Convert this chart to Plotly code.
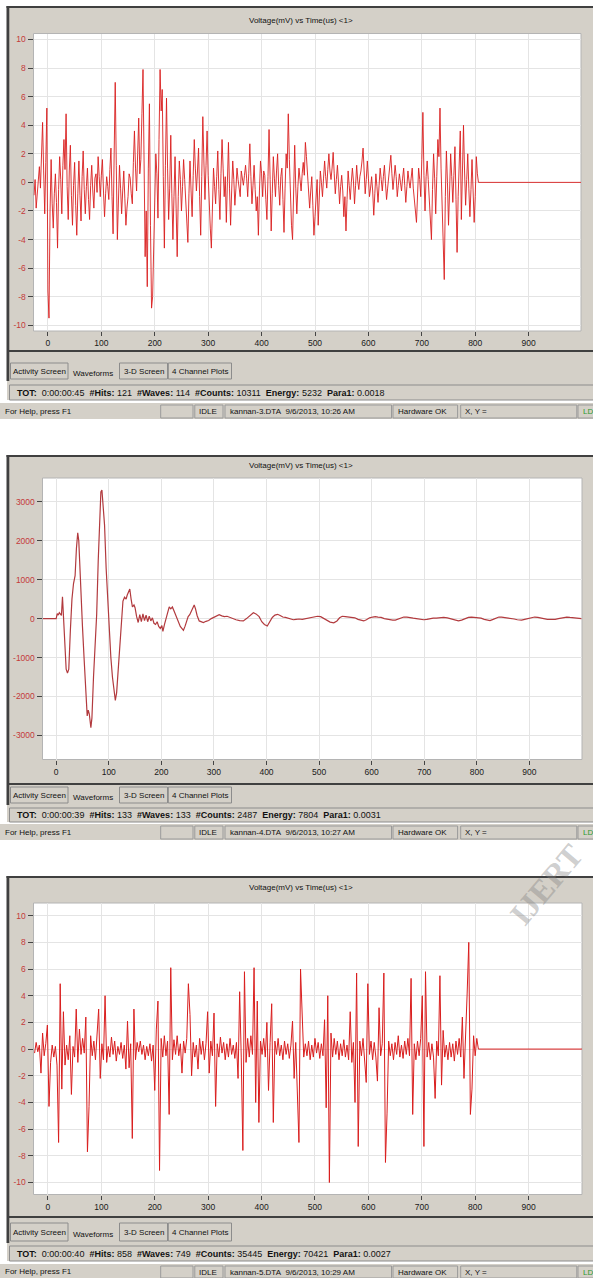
import plotly.graph_objects as go

# ---------------------------------------------------------------------------
# Acoustic-emission waveforms (Voltage in mV against Time in us), three hits
# ---------------------------------------------------------------------------

# Hit 1 (kannan-3.DTA): sampled every 2 us starting at -26 us
WF1_T0 = -26
WF1_DT = 2
WF1_MV = [
    -0.9, 0.2, -1.8, -0.6, 0.5, 1.1, -0.4, 2.5, 4.2, 0.8, -2.2, 1.4, 5.2, -7.6, -9.5, -2.0, 1.6, -1.5, -3.2, -0.8,
    0.6, -1.4, -4.6, -0.5, 1.8, 0.2, -2.2, 1.2, 3.0, 0.9, 4.8, -0.3, -2.6, 0.8, 2.6, -0.9, -3.0, -0.2, 1.4, -1.6,
    -3.7, -0.8, 1.5, -0.9, -2.7, 0.4, 2.2, -0.5, -2.2, -0.3, 1.0, -1.2, -2.6, -0.2, 1.2, -0.6, -1.8, 0.3, 0.6, -0.7,
    1.8, 0.4, -1.0, 0.5, 1.6, -0.6, -2.4, -0.8, 0.4, -0.3, -1.2, 0.9, 2.4, -1.0, -3.6, 2.0, 7.0, 1.2, -4.0, -1.3,
    1.2, -0.4, -2.2, -0.6, 0.8, -1.1, -3.0, -1.8, -1.0, 0.6, 0.3, -0.8, -1.5, 1.4, 3.6, 1.0, -0.6, 2.0, 4.5, 0.6,
    1.6, 4.8, 7.9, 1.5, -5.2, -2.0, -7.3, 1.0, 5.5, -3.0, -8.8, -8.0, -4.5, -1.0, 2.0, 0.6, -2.5, 3.0, 7.9, 5.0,
    6.5, 0.4, -4.6, 1.2, 5.9, 1.0, -2.6, -0.4, 3.3, -0.8, -4.0, -1.0, 1.8, -1.8, -5.2, -1.0, 1.5, 0.2, -2.0, -0.3,
    1.6, 0.2, -1.2, -2.0, -4.2, -0.8, 1.5, -0.6, -2.4, 0.5, 3.0, 1.0, -0.6, 0.8, 2.4, -1.0, -3.7, 0.4, 4.6, 1.5,
    -1.2, 1.2, 3.6, 0.5, -2.0, -3.2, -4.6, -0.8, 1.0, -0.3, -1.5, 0.4, 2.2, -0.5, -2.6, 0.6, 3.0, 1.0, -1.0, 0.4,
    -2.8, 0.0, 2.8, -0.4, -3.0, -0.6, 1.5, 0.2, -1.6, -0.4, 1.0, 0.2, -0.5, -1.0, 0.8, 0.1, -0.2, 0.5, 1.2, 0.3,
    -1.0, 0.6, 2.7, 0.4, -1.5, -0.2, 1.2, -0.5, -2.0, -1.0, -3.7, -0.6, 1.5, 0.6, -1.0, 0.8, 0.5, -1.2, -2.6, 0.4,
    3.7, 0.2, -3.4, -0.8, 1.8, 0.3, -1.0, 0.8, 2.0, -0.2, -1.6, 0.4, 1.0, -1.2, -3.5, -0.4, 2.0, 1.0, 4.8, 1.6,
    -1.0, -3.0, -4.0, 0.4, 2.6, -0.4, -2.2, -0.3, 1.0, 0.2, -0.6, 0.6, 1.4, 0.5, 2.8, 1.8, 0.6, -0.5, -1.8, -0.6,
    0.4, -1.6, -3.7, -2.4, -1.0, 0.2, -3.0, -0.8, 0.8, 0.0, -1.0, 0.3, 1.5, 0.4, -0.4, 0.9, 2.0, 0.8, 0.2, 1.0,
    2.1, 0.6, -0.8, 0.2, 1.2, 0.0, -1.5, -0.3, 0.5, -0.6, -2.4, -1.0, -3.4, -1.2, 0.8, -0.2, -1.2, 0.0, 1.0, 0.1,
    -1.5, -0.2, 1.2, 0.1, -0.5, 0.4, 0.8, 1.5, 2.4, 0.8, -0.8, 0.2, 1.5, 0.3, -1.0, -0.4, 0.4, -0.6, -2.3, -0.8,
    0.6, -0.3, -1.4, -0.2, 1.0, 0.2, -0.6, 0.4, 1.2, -0.1, -1.2, -0.4, 0.5, 1.0, 1.9, 0.6, -0.5, 0.3, 1.2, 0.4,
    -1.0, -0.2, 0.6, 0.0, -0.6, 0.3, 1.0, -0.2, -1.4, -0.3, 0.8, 0.1, -0.4, 0.3, 1.0, -0.4, -1.6, -2.0, -2.8, -0.6,
    1.0, 0.2, -1.0, 1.6, 4.9, 0.5, -2.0, 0.4, 1.5, 0.2, -1.0, -2.6, -4.0, -0.5, 2.0, 0.3, -2.2, 0.4, 3.0, 1.8,
    5.2, 1.0, -2.0, -3.0, -6.8, -1.0, 2.2, 0.0, -3.0, -0.6, 2.0, 0.4, -1.4, 0.5, 2.5, -1.2, -4.9, -1.0, 1.2, 3.6,
    -2.6, 0.6, 4.0, 0.8, -1.6, 0.2, 2.0, -0.4, -2.4, -0.5, 1.6, -0.6, -2.8, -1.0, 1.8, 0.6, 0.0,
]
WF1_TAIL_T = [998]
WF1_TAIL_MV = [0.0]

# Hit 2 (kannan-4.DTA): large low-frequency burst, irregular sample times
MID_TIME = [
    -25, 0, 2, 4, 6, 8, 10, 12, 13.5, 15,
    17, 19, 21.5, 24, 27, 30, 33, 36, 38.5, 41,
    43, 45, 47.5, 50, 53, 56, 59, 61, 63, 66,
    68, 71, 74, 77, 80, 82.5, 85, 87, 89.5, 92,
    95, 98, 101, 104, 107, 110, 112.5, 115, 118, 121,
    124, 127, 130, 133, 135, 137.5, 140, 142.5, 145, 148,
    150, 153, 156, 159, 162, 165, 168, 171, 174, 177,
    180, 183, 186, 189, 192, 195, 198, 201, 203, 206,
    209, 212, 215, 218, 221, 224, 227, 230, 233, 236,
    239, 242, 245, 248, 251, 254, 257, 260, 262.5, 265,
    268, 272, 276, 280, 285, 290, 295, 300, 305, 310,
    315, 320, 325, 330, 336, 342, 349, 356, 362, 368,
    375, 380, 386, 391, 396, 401.5, 406, 411, 416, 421,
    426, 431, 436, 441, 446, 451, 456, 462, 468, 474,
    480, 486, 491, 497, 503, 509, 515, 521, 528, 534,
    539, 544, 550, 556, 562, 568, 574, 580, 585, 590,
    596, 602, 607, 612, 618, 624, 630, 635, 640, 645,
    650, 655, 661, 667, 673, 679, 685, 691, 699, 705,
    711, 717, 723, 729, 737, 744, 750, 757, 765, 771,
    777, 784, 790, 796, 802, 808, 814, 819, 825, 831,
    837, 842, 847, 853, 859, 865, 871, 877, 885, 891,
    897, 903, 910, 916, 922, 928, 934, 940, 949, 955,
    961, 967, 971, 977, 983, 989, 999,
]
MID_MV = [
    0, 0, 130, 90, 150, 100, 80, 560, 200, -400,
    -900, -1300, -1400, -1300, -300, 500, 900, 1100, 1800, 2200,
    2000, 1300, 600, -200, -1000, -1800, -2500, -2350, -2450, -2800,
    -2550, -1500, -600, 100, 1500, 2600, 3250, 3300, 2900, 2400,
    1300, 500, -300, -1000, -1500, -1900, -2100, -1900, -1300, -800,
    -100, 450, 550, 500, 600, 700, 760, 500, 300, 350,
    280, 50, -100, 100, -80, 120, -50, 90, -80, 60,
    -60, 20, -120, -150, -80, -200, -250, -180, -330, -150,
    0, 150, 300, 250, 300, 200, 100, -50, -150, -200,
    -250, -300, -200, -50, 50, 100, 200, 300, 350, 250,
    80, -60, -80, -100, -70, -50, 0, 40, 60, 100,
    70, 50, 60, 30, 10, -30, -50, -60, 0, 80,
    150, 120, 50, -80, -150, -190, -80, 30, 90, 110,
    80, 40, 30, 10, -20, -30, -20, -10, -20, 0,
    20, 40, 50, 60, 50, 10, -40, -90, -110, -60,
    20, 60, 50, 40, 30, 20, -20, -50, -60, -30,
    20, 40, 50, 40, 30, 0, -20, -30, -40, -40,
    -10, 20, 40, 40, 20, 10, 0, -20, -30, -20,
    0, 10, 10, 20, 30, 20, 0, -30, -60, -40,
    0, 30, 40, 30, 20, 10, -20, -40, -50, -20,
    20, 40, 40, 30, 20, 10, -10, -30, -40, -20,
    0, 20, 40, 30, 10, -10, -20, -20, -20, 0,
    20, 40, 40, 30, 20, 10, 0,
]

# Hit 3 (kannan-5.DTA): sampled every 3 us starting at -25 us
WF3_T0 = -25
WF3_DT = 3
WF3_MV = [
    -0.3, 0.5, -0.2, 0.3, -1.8, 1.2, -0.5, 0.4, 1.8, -4.3,
    -1.0, 0.3, -0.6, 0.2, -1.2, -7.0, 4.9, -3.0, 2.8, -1.2,
    0.3, -0.8, 1.0, -3.4, 0.2, -0.6, 3.0, -1.0, 1.5, -0.4,
    0.8, -0.3, 2.4, -7.7, -4.3, 1.0, -0.5, 0.6, -0.8, 1.2,
    3.0, -2.2, 0.4, -0.8, 4.0, -1.0, 0.2, -0.6, 0.9, -0.4,
    0.6, -0.9, 0.2, -0.4, 0.5, -0.7, 0.3, -1.5, 2.1, -1.4,
    0.4, -6.7, 3.0, -0.8, 0.5, -0.2, 0.6, -0.4, 0.3, -0.8,
    0.2, -0.5, 0.4, -0.9, 0.3, -3.1, 1.5, 3.6, -9.1, 0.8,
    -0.6, 1.0, -0.5, 0.6, -4.9, 6.1, -0.8, 0.7, -0.4, 1.0,
    -0.5, 0.4, -1.8, 0.6, -0.3, 0.8, 4.9, 2.6, -2.0, 0.5,
    -0.6, 0.3, -1.5, 0.8, -0.4, 0.6, -0.8, 0.4, 2.8, -1.8,
    0.6, -0.5, 2.7, -4.3, 0.4, -0.6, 0.9, -0.3, 0.5, -0.8,
    0.4, -0.6, 0.8, -0.4, 0.3, -0.7, 0.5, -2.2, 4.3, -0.6,
    -7.6, 5.8, -1.0, 0.8, -0.6, 1.0, -0.4, 6.1, -4.0, 3.6,
    -5.5, 0.6, -0.4, 0.8, -0.6, 2.0, -3.1, 0.5, 3.4, -5.5,
    0.6, -0.4, 0.8, -0.5, 0.3, -0.8, 0.6, -0.4, 0.4, -0.7,
    0.3, 2.1, -2.2, 0.5, -3.8, -7.0, 6.0, 3.3, -0.6, 0.4,
    -0.5, 0.6, -0.8, 0.3, -0.6, 0.8, -0.3, 0.5, -0.7, 0.4,
    -0.5, 2.2, -4.4, 4.0, -10.0, 1.2, -0.6, 0.8, -0.4, 0.6,
    -0.8, 0.4, -0.5, 0.7, -0.6, 0.3, -0.8, 2.8, -1.0, 0.5,
    -4.0, 5.7, -7.3, 0.6, -0.5, 0.8, -0.6, -2.5, 4.9, -0.4,
    0.6, -0.8, 0.5, -0.6, -2.4, 3.1, -0.5, 0.4, 5.7, -8.5,
    -4.8, 0.6, -0.5, 0.4, -0.8, 0.5, -0.4, 1.0, -0.6, 0.3,
    -0.7, 0.6, -0.4, 0.8, -0.5, 5.3, -4.9, 0.4, -0.8, 0.6,
    -0.5, 0.8, 4.0, -7.3, 5.8, -0.6, 0.5, -0.8, 0.4, -0.6,
    -3.7, 0.6, -0.5, 5.5, -2.7, 1.4, -0.6, 0.3, -0.8, 0.5,
    -0.6, 0.4, -0.9, 0.6, -0.4, 0.8, -0.6, 2.4, -2.2, 0.6,
    4.2, 8.0, -4.9, -3.0, 1.0, -0.5, 0.8,
]
WF3_TAIL_T = [806, 1000]
WF3_TAIL_MV = [0.0, 0.0]

# Axis ticks
X_TICKS = [0, 100, 200, 300, 400, 500, 600, 700, 800, 900]
Y_TICKS_SMALL = [-10, -8, -6, -4, -2, 0, 2, 4, 6, 8, 10]
Y_TICKS_LARGE = [-3000, -2000, -1000, 0, 1000, 2000, 3000]

# Hit summaries shown in the status bars
TOT = ["0:00:00:45", "0:00:00:39", "0:00:00:40"]
HITS = [121, 133, 858]
WAVES = [114, 133, 749]
COUNTS = [10311, 2487, 35445]
ENERGY = [5232, 7804, 70421]
PARA1 = ["0.0018", "0.0031", "0.0027"]
FILES = ["kannan-3.DTA", "kannan-4.DTA", "kannan-5.DTA"]
STAMPS = ["9/6/2013, 10:26 AM", "9/6/2013, 10:27 AM", "9/6/2013, 10:29 AM"]
TAB_NAMES = ["Activity Screen", "Waveforms", "3-D Screen", "4 Channel Plots"]

# ---------------------------------------------------------------------------
# page geometry (pixels)
# ---------------------------------------------------------------------------
W, H = 593, 1278
UI_FONT = "Liberation Sans"
GRAY = "#d4d0c8"
DARK = "#404040"
EDGE = "#8c8c8c"
TRACE_RED = "#d91e1e"
TICK_RED = "#c43a3a"

PANELS = [
    dict(top=7, bottom=351, title=20, plot=(33.5, 33.5, 581, 331),
         xr=[-27, 998], yr=[-10.4, 10.42],
         tabs=(363, 381), st1=(385, 400), st2=(404, 418)),
    dict(top=456, bottom=784, title=465, plot=(42.5, 478, 582, 759.5),
         xr=[-26, 1000], yr=[-3617, 3609],
         tabs=(787, 805), st1=(808, 822), st2=(825, 839)),
    dict(top=877, bottom=1217, title=887, plot=(33.5, 903, 582, 1194.5),
         xr=[-27, 1000], yr=[-10.9, 10.95],
         tabs=(1223, 1243), st1=(1246, 1261), st2=(1265, 1278)),
]
TAB_X = [(10.5, 68), (68, 118), (119.5, 167.5), (168.3, 231.5)]

shapes = []
annos = []


def rect(x0, y0, x1, y1, fill=None, line=None, lw=1):
    shapes.append(dict(
        type="rect", xref="paper", yref="paper", layer="below",
        x0=x0 / W, x1=x1 / W, y0=1 - y1 / H, y1=1 - y0 / H,
        fillcolor=fill or "rgba(0,0,0,0)",
        line=dict(color=line or "rgba(0,0,0,0)", width=lw if line else 0),
    ))


def text(x, y, s, size=8.5, color="#111", anchor="left", family=UI_FONT):
    annos.append(dict(
        xref="paper", yref="paper", x=x / W, y=1 - y / H, text=s,
        showarrow=False, xanchor=anchor, yanchor="middle",
        font=dict(family=family, size=size, color=color),
    ))


def sample_times(t0, dt, n):
    return [t0 + i * dt for i in range(n)]


SP = "\u00a0"
fig = go.Figure()
layout_axes = {}

series = [
    (sample_times(WF1_T0, WF1_DT, len(WF1_MV)) + WF1_TAIL_T, WF1_MV + WF1_TAIL_MV,
     TRACE_RED, 0.9),
    (MID_TIME, MID_MV, "#b23a3e", 1.2),
    (sample_times(WF3_T0, WF3_DT, len(WF3_MV)) + WF3_TAIL_T, WF3_MV + WF3_TAIL_MV,
     TRACE_RED, 1.0),
]

for i, p in enumerate(PANELS):
    k = "" if i == 0 else str(i + 1)
    px0, py0, px1, py1 = p["plot"]

    # window chrome
    rect(7, p["top"], W, p["bottom"], fill=GRAY)
    rect(7, p["bottom"], W, p["st1"][1], fill=GRAY)
    rect(0, p["st2"][0] - 1, W, min(p["st2"][1] + 1, H), fill=GRAY)
    rect(6.5, p["top"] - 1, W, p["top"] + 1, fill=DARK)
    rect(6.5, p["top"] - 1, 9.3, p["tabs"][1], fill=DARK)
    rect(7, p["bottom"] - 1, W, p["bottom"] + 1, fill=DARK)

    # plotting area
    rect(px0, py0, px1, py1, fill="white", line="#b4b4b4")

    # title
    text(301, p["title"], "Voltage(mV) vs Time(us) &lt;1&gt;", size=8, anchor="center")

    # tab strip
    ty0, ty1 = p["tabs"]
    for j, (name, (a, b)) in enumerate(zip(TAB_NAMES, TAB_X)):
        if j != 1:
            rect(a, ty0, b, ty1 - 2, line=EDGE)
            text((a + b) / 2, (ty0 + ty1 - 2) / 2, name, size=8, anchor="center")
        else:
            text((a + b) / 2, (ty0 + ty1) / 2 + 1.5, name, size=8, anchor="center")

    # hit summary bar
    s0, s1 = p["st1"]
    rect(9.5, s0, W + 2, s1, line=EDGE)
    summary = (f"<b>TOT:</b>{SP*2}{TOT[i]}{SP*2}<b>#Hits:</b> {HITS[i]}{SP*2}"
               f"<b>#Waves:</b> {WAVES[i]}{SP*2}<b>#Counts:</b> {COUNTS[i]}{SP*2}"
               f"<b>Energy:</b> {ENERGY[i]}{SP*2}<b>Para1:</b> {PARA1[i]}")
    text(15, (s0 + s1) / 2, summary, size=9)

    # help / status bar
    h0, h1 = p["st2"]
    text(3, (h0 + h1) / 2, "For Help, press F1", size=8)
    cells = [((160.7, 193), "", "#111"), ((194.8, 223), "IDLE", "#111"),
             ((225, 391.5), f"{FILES[i]}{SP*2}{STAMPS[i]}", "#111"),
             ((393, 457.6), "Hardware OK", "#111"), ((460.7, 576.8), "X, Y =", "#111"),
             ((578, 600), "LD", "#2e9a2e")]
    for (a, b), s, c in cells:
        rect(a, h0 + 1, b, h1, line="#9a9a9a")
        if s:
            text(a + 2.5, (h0 + h1) / 2 + 0.5, s, size=8, color=c)

    # axes
    yt = Y_TICKS_LARGE if i == 1 else Y_TICKS_SMALL
    layout_axes["xaxis" + k] = dict(
        domain=[px0 / W, px1 / W], range=p["xr"], anchor="y" + k,
        tickmode="array", tickvals=X_TICKS, ticktext=[str(v) for v in X_TICKS],
        showgrid=True, gridcolor="#e4e4e4", gridwidth=1, zeroline=False,
        ticks="outside", ticklen=4, tickcolor="#444", showline=False,
        tickfont=dict(family=UI_FONT, size=8.5, color="#1a1a1a"), fixedrange=True,
    )
    layout_axes["yaxis" + k] = dict(
        domain=[1 - py1 / H, 1 - py0 / H], range=p["yr"], anchor="x" + k,
        tickmode="array", tickvals=yt, ticktext=[str(v) for v in yt],
        showgrid=True, gridcolor="#e4e4e4", gridwidth=1, zeroline=False,
        ticks="outside", ticklen=5, tickcolor="#444", showline=False,
        tickfont=dict(family=UI_FONT, size=8.5, color=TICK_RED), fixedrange=True,
    )

    t, v, col, lw = series[i]
    fig.add_trace(go.Scatter(x=t, y=v, mode="lines", xaxis="x" + k, yaxis="y" + k,
                             line=dict(color=col, width=lw), hoverinfo="skip",
                             showlegend=False))

# faint publisher watermark near the right edge
annos.append(dict(xref="paper", yref="paper", x=546 / W, y=1 - 885 / H,
                  text="<b>IJERT</b>", showarrow=False, textangle=-50,
                  xanchor="center", yanchor="middle",
                  font=dict(family="Liberation Serif", size=32,
                            color="rgba(130,130,130,0.4)")))

fig.update_layout(
    width=W, height=H, autosize=False,
    margin=dict(l=0, r=0, t=0, b=0),
    paper_bgcolor="white", plot_bgcolor="rgba(0,0,0,0)",
    shapes=shapes, annotations=annos, showlegend=False,
    **layout_axes,
)

fig.write_html("out.html", config={"displayModeBar": False})
